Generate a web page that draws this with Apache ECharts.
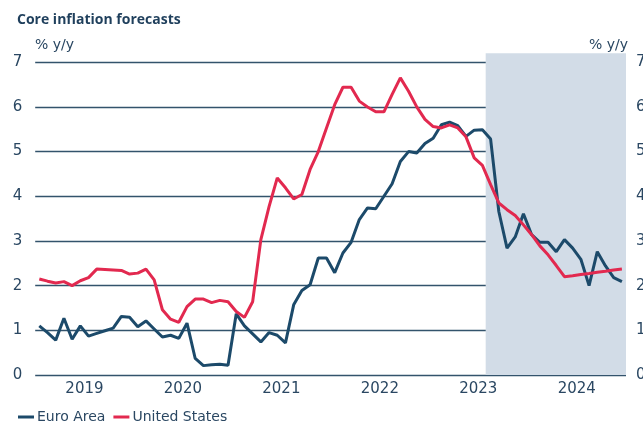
<!DOCTYPE html>
<html><head><meta charset="utf-8">
<script src="https://cdn.jsdelivr.net/npm/echarts@6/dist/echarts.min.js"></script>
<style>html,body{margin:0;padding:0;background:#fff}#c{width:643px;height:439px}</style>
</head><body><div id="c"></div>
<script>
const years = [2019, 2020, 2021, 2022, 2023, 2024];
const yTicks = [0, 1, 2, 3, 4, 5, 6, 7];
const euroArea = [1.1,0.95,0.78,1.27,0.8,1.1,0.87,0.93,0.99,1.05,1.31,1.29,
  1.08,1.21,1.03,0.85,0.89,0.82,1.16,0.37,0.21,0.23,0.24,0.22,
  1.37,1.1,0.92,0.74,0.95,0.89,0.72,1.57,1.89,2.02,2.62,2.62,
  2.29,2.73,2.97,3.48,3.74,3.72,4.0,4.28,4.78,5.0,4.97,5.18,
  5.3,5.6,5.66,5.58,5.34,5.48,5.49,5.28,3.66,2.84,3.09,3.61,
  3.14,2.97,2.97,2.76,3.03,2.84,2.59,2.0,2.76,2.44,2.18,2.09];
const unitedStates = [2.15,2.1,2.06,2.09,2.0,2.11,2.18,2.37,2.36,2.35,2.34,2.26,
  2.28,2.37,2.13,1.46,1.25,1.18,1.53,1.7,1.7,1.62,1.67,1.64,
  1.42,1.29,1.64,3.03,3.77,4.41,4.19,3.94,4.04,4.6,5.0,5.53,
  6.05,6.44,6.44,6.13,6.0,5.89,5.89,6.28,6.65,6.35,6.0,5.72,
  5.56,5.53,5.6,5.53,5.33,4.86,4.69,4.26,3.85,3.7,3.57,3.36,
  3.14,2.89,2.69,2.45,2.2,2.22,2.25,2.27,2.3,2.32,2.35,2.37];
const forecastStart = 2023.575;

const xPos = euroArea.map((_, i) => years[0] + (i + 0.5) / 12);
const euroData = euroArea.map((v, i) => [xPos[i], v]);
const usData = unitedStates.map((v, i) => [xPos[i], v]);

const txt = '#2a4762';
const grid = '#33536c';
const font = '"DejaVu Sans", sans-serif';
const chart = echarts.init(document.getElementById('c'), null, {renderer: 'canvas'});
chart.setOption({
  animation: false,
  textStyle: {fontFamily: font},
  title: {text: 'Core inflation forecasts', left: 12, top: 8,
    textStyle: {fontSize: 14, fontWeight: 'bold', color: '#1f3f5c', fontFamily: '"Open Sans", sans-serif'}},
  graphic: [
    {type: 'text', left: 35, top: 38, style: {text: '% y/y', fontSize: 14, fill: txt, fontFamily: font}},
    {type: 'text', right: 15, top: 38, style: {text: '% y/y', fontSize: 14, fill: txt, fontFamily: font}}
  ],
  legend: {left: 13, top: 405, itemWidth: 16, itemHeight: 3, itemGap: 8, icon: 'rect',
    textStyle: {fontSize: 14, color: txt, fontFamily: font, padding: [0, 0, 0, -2]},
    data: ['Euro Area', 'United States']},
  grid: {left: 35.2, right: 17, top: 53.3, bottom: 64, containLabel: false, outerBoundsMode: 'none'},
  xAxis: {type: 'value', min: years[0], max: years[years.length - 1] + 1, interval: 0.5,
    axisLine: {show: false}, axisTick: {show: false}, splitLine: {show: false},
    axisLabel: {fontSize: 15, color: txt, margin: 7, fontFamily: font,
      showMinLabel: true, showMaxLabel: true,
      formatter: v => (Math.abs(v % 1 - 0.5) < 1e-6 && years.indexOf(Math.floor(v)) >= 0) ? String(Math.floor(v)) : ''}},
  yAxis: [
    {type: 'value', min: yTicks[0], max: 7.2, interval: 1, position: 'left',
      axisLine: {show: false}, axisTick: {show: false},
      splitLine: {show: true, showMaxLine: false, lineStyle: {color: grid, width: 1.4}},
      axisLabel: {fontSize: 15, color: txt, margin: 13, showMaxLabel: false, fontFamily: font,
        formatter: v => yTicks.indexOf(v) >= 0 ? String(v) : ''}},
    {type: 'value', min: yTicks[0], max: 7.2, interval: 1, position: 'right',
      axisLine: {show: false}, axisTick: {show: false}, splitLine: {show: false},
      axisLabel: {fontSize: 15, color: txt, margin: 10, showMaxLabel: false, fontFamily: font,
        formatter: v => yTicks.indexOf(v) >= 0 ? String(v) : ''}}
  ],
  series: [
    {name: 'Euro Area', type: 'line', data: euroData, showSymbol: false, symbol: 'none',
      lineStyle: {color: '#1c4a6a', width: 3}, itemStyle: {color: '#1c4a6a'}, z: 3,
      markArea: {silent: true, itemStyle: {color: '#d2dce7'},
        data: [[{xAxis: forecastStart, yAxis: 0}, {xAxis: years[years.length - 1] + 1, yAxis: 7.2}]]}},
    {name: 'United States', type: 'line', data: usData, showSymbol: false, symbol: 'none',
      lineStyle: {color: '#e2294f', width: 3}, itemStyle: {color: '#e2294f'}, z: 4}
  ]
});
</script></body></html>
